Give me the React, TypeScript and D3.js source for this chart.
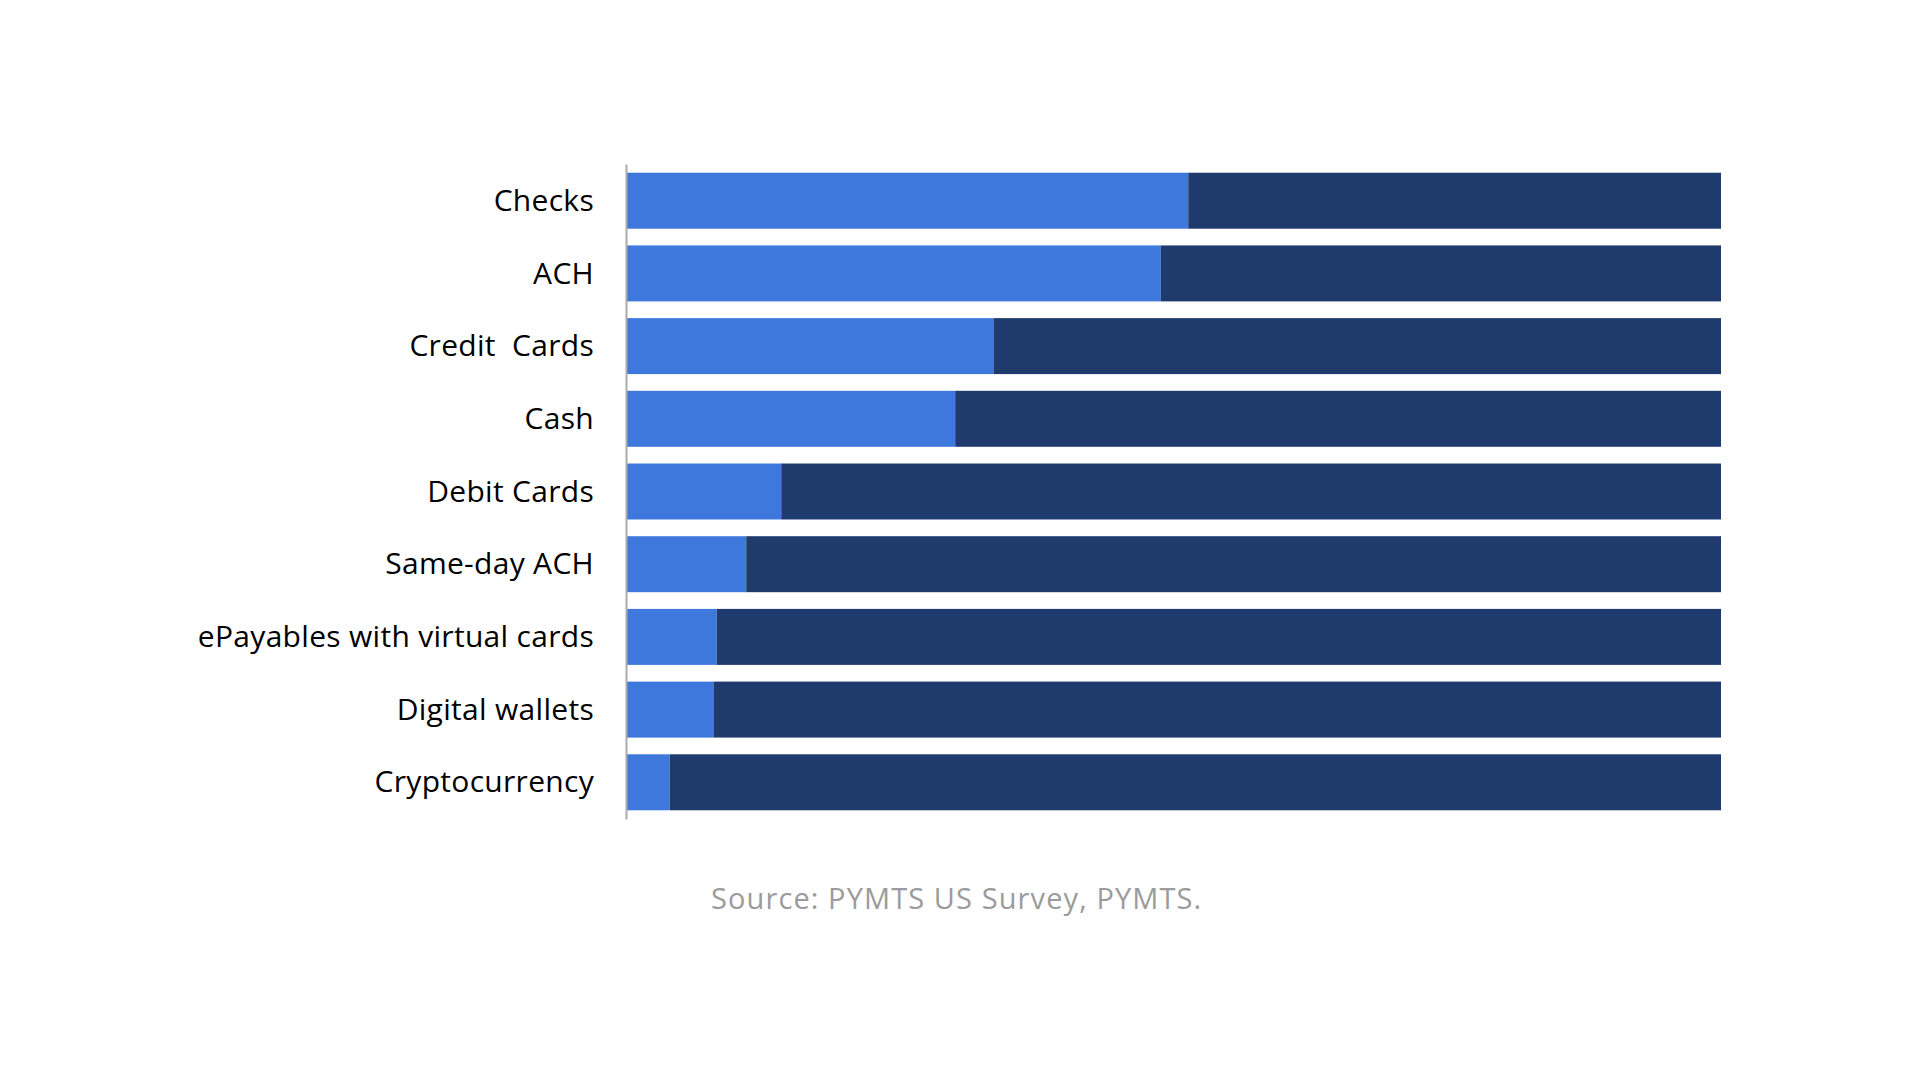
import * as React from "react";
import * as d3 from "d3";

const lightBlue: string = "#3f78dd";
const navy: string = "#1f3a6c";
const axisGrey: string = "#ababab";

// payment methods, top to bottom
const categories: string[] = [
    "Checks",
    "ACH",
    "Credit  Cards",
    "Cash",
    "Debit Cards",
    "Same-day ACH",
    "ePayables with virtual cards",
    "Digital wallets",
    "Cryptocurrency"
];
// share using the method (%)
const usedShares: number[] = [51.3, 48.8, 33.5, 30.0, 14.1, 10.9, 8.2, 7.9, 3.9];
// share not using it (%)
const otherShares: number[] = [48.7, 51.2, 66.5, 70.0, 85.9, 89.1, 91.8, 92.1, 96.1];
const seriesKeys: string[] = ["used", "other"];
const seriesColors: string[] = [lightBlue, navy];
const sourceText: string = "Source: PYMTS US Survey, PYMTS.";

interface Row {
    category: string;
    used: number;
    other: number;
}

const width: number = 1920;
const height: number = 1080;
const margin = { top: 164, right: 199, bottom: 261, left: 626 };
const fontStack: string = "'Open Sans', Lato, sans-serif";

class StackedBars extends React.PureComponent<{}> {
    private ref: React.RefObject<SVGSVGElement> = React.createRef();

    public componentDidMount(): void {
        this.drawGraph();
    }

    public render(): JSX.Element {
        return <div style={{ position: "absolute", left: 0, top: 0, width, height, background: "#fff" }}>
            <svg ref={this.ref} width={width} height={height}></svg>
        </div>;
    }

    private drawGraph(): void {
        const svg = d3.select(this.ref.current);
        svg.selectAll("*").remove();

        const rows: Row[] = categories.map((c: string, i: number) => ({
            category: c,
            used: usedShares[i],
            other: otherShares[i]
        }));

        const xScale = d3.scaleLinear()
            .domain([0, 100])
            .range([margin.left + 1, width - margin.right]);
        const yScale = d3.scaleBand<string>()
            .domain(categories)
            .range([margin.top, height - margin.bottom])
            .paddingInner(0.23)
            .paddingOuter(0.12)
            .align(0.5);

        const stacked = d3.stack<Row>().keys(seriesKeys)(rows);

        svg.append("g")
            .selectAll("g")
            .data(stacked).enter().append("g")
            .attr("fill", (_d, i: number) => seriesColors[i])
            .selectAll("rect")
            .data((s) => s).enter().append("rect")
            .attr("x", (d) => xScale(d[0]))
            .attr("width", (d) => xScale(d[1]) - xScale(d[0]))
            .attr("y", (d) => yScale(d.data.category) as number)
            .attr("height", yScale.bandwidth());

        const yAxis = d3.axisLeft(yScale).tickSize(0).tickPadding(32);
        const yG = svg.append("g")
            .attr("transform", `translate(${margin.left},0)`)
            .call(yAxis);
        yG.select(".domain")
            .attr("stroke", axisGrey)
            .attr("stroke-width", 2);
        yG.selectAll("text")
            .attr("fill", "#000")
            .attr("font-family", fontStack)
            .attr("font-size", 30)
            .attr("letter-spacing", 0.3)
            .attr("dy", "0.34em")
            .style("white-space", "pre");

        svg.append("text")
            .attr("x", 711)
            .attr("y", 909)
            .attr("fill", "#9b9b9b")
            .attr("font-family", fontStack)
            .attr("font-size", 29)
            .attr("letter-spacing", 1.1)
            .text(sourceText);
    }
}

export default function App(): JSX.Element {
    return <StackedBars />;
}
